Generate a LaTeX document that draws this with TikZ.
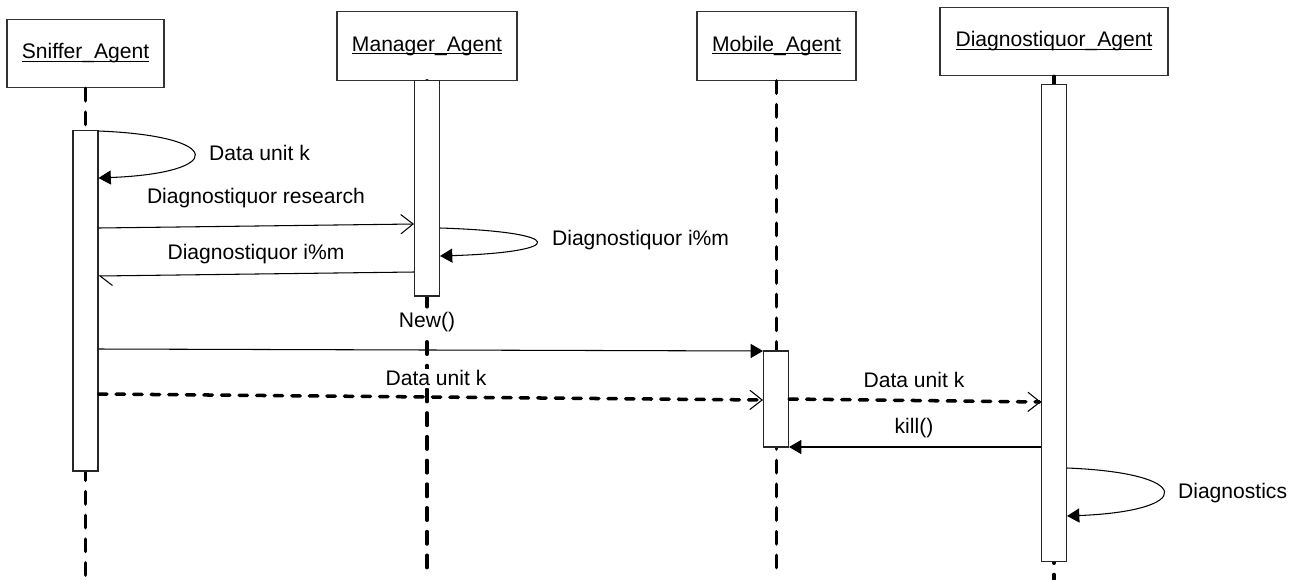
\documentclass[tikz,border=0pt]{standalone}
\usepackage{fontspec}
\setmainfont{Liberation Sans}
\usetikzlibrary{arrows.meta,positioning}
\newcommand{\ulname}[1]{\setbox0\hbox{#1}\rlap{\rule[-1.6pt]{\wd0}{0.6pt}}\box0}
\tikzset{
  openhead/.style={-{Straight Barb[length=7pt,width=11pt,line width=0.6pt]}},
  fullhead/.style={-{Triangle[length=7pt,width=8pt]}}
}
\begin{document}
\begin{tikzpicture}[x=0.02cm, y=-0.02cm, font=\fontsize{12pt}{14pt}\selectfont,
    head/.style = {draw=black!80, line width=0.8pt, minimum height=1.37cm, inner sep=0pt},
    act/.style = {draw=black!85, fill=white, line width=0.6pt, minimum width=0.5cm, inner sep=0pt},
    life/.style = {line width=2.1pt, line cap=round, dash pattern=on 7pt off 6.5pt},
    msg/.style = {line width=0.6pt},
    async/.style = {line width=2pt, line cap=round, dash pattern=on 4.8pt off 5.2pt},
    self/.style = {line width=0.6pt, fullhead},
    txt/.style = {inner sep=1pt}]
  \useasboundingbox (0,0) rectangle (1295,579);

  % objects
  \node[head, minimum width=3.14cm](sh) at (85.5,53.5){\ulname{Sniffer\_Agent}};
  \node[head, minimum width=3.6cm](mh) at (427,46){\ulname{Manager\_Agent}};
  \node[head, minimum width=3.18cm](oh) at (776.5,46){\ulname{Mobile\_Agent}};
  \node[head, minimum width=4.56cm](dh) at (1054,41.5){\ulname{Diagnostiquor\_Agent}};

  % lifelines
  \coordinate (bot) at (0,579);
  \draw[life] (sh.south) -- (sh.south |- bot);
  \draw[life] (mh.south) -- (mh.south |- bot);
  \draw[life] (oh.south) -- (oh.south |- bot);
  \draw[life] (dh.south) -- (dh.south |- bot);

  % activations
  \node[act, minimum height=6.82cm](sa) at (85.5,300.5){};
  \node[act, minimum height=4.32cm](ma) at (427,188){};
  \node[act, minimum height=1.92cm](oa) at (776,399){};
  \node[act, minimum height=9.56cm](da) at (1054,323){};

  % message rows
  \coordinate (r1) at (0,131);  \coordinate (r2) at (0,178);
  \coordinate (r3) at (0,228);  \coordinate (r4) at (0,224);
  \coordinate (r5) at (0,228);  \coordinate (r6) at (0,256);
  \coordinate (r7) at (0,272);  \coordinate (r8) at (0,276);
  \coordinate (r9) at (0,349);  \coordinate (r10) at (0,351);
  \coordinate (r11) at (0,394); \coordinate (r12) at (0,400);
  \coordinate (r13) at (0,399); \coordinate (r14) at (0,402);
  \coordinate (r15) at (0,447);
  \coordinate (r16) at (0,468); \coordinate (r17) at (0,516);

  \draw[self] (sa.east |- r1) .. controls +(127,5) and +(127,-5) .. (sa.east |- r2);
  \node[txt, anchor=west](l1) at (207,153){Data unit k};

  \draw[msg, openhead] (sa.east |- r3) -- (ma.west |- r4);
  \node[txt](l2) at (256,198){Diagnostiquor research};

  \draw[self] (ma.east |- r5) .. controls +(128,4) and +(128,-4) .. (ma.east |- r6);
  \node[txt, anchor=west](l3) at (550,240){Diagnostiquor i\%m};

  \draw[msg, -{Straight Barb[harpoon, length=7pt, width=11pt, line width=0.6pt]}] (ma.west |- r7) -- (sa.east |- r8);
  \node[txt](l4) at (256,254){Diagnostiquor i\%m};

  \node[txt, fill=white](l5) at (427,322){New()};
  \draw[msg, fullhead] (sa.east |- r9) -- (oa.west |- r10);

  \draw[async, openhead] (sa.east |- r11) -- (oa.west |- r12);
  \node[txt, fill=white](l6) at (436,378){Data unit k};

  \draw[async, openhead] (oa.east |- r13) -- (da.west |- r14);
  \node[txt](l7) at (914,380){Data unit k};

  \draw[msg, fullhead] (da.west |- r15) -- (oa.east |- r15);
  \node[txt](l8) at (914,428){kill()};

  \draw[self] (da.east |- r16) .. controls +(128,5) and +(128,-5) .. (da.east |- r17);
  \node[txt, anchor=west](l9) at (1176,493){Diagnostics};
\end{tikzpicture}
\end{document}
